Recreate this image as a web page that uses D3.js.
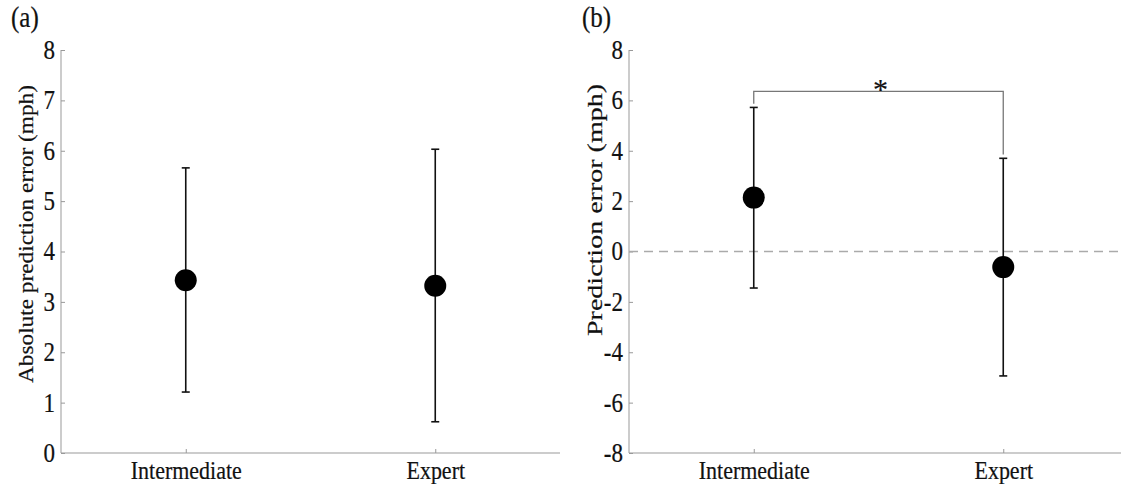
<!DOCTYPE html>
<html><head><meta charset="utf-8">
<script src="https://cdn.jsdelivr.net/npm/d3@7"></script>
<style>
body{margin:0;background:#fff;}
text{font-family:"Liberation Serif","Times New Roman",serif;fill:#111;stroke:#111;stroke-width:0.2px;}
</style></head>
<body><svg id="c" width="1121" height="491"></svg>
<script>
const categories = ["Intermediate", "Expert"];
// Panel (a): absolute prediction error
const absMean = [3.43, 3.32];
const absLow  = [1.21, 0.62];
const absHigh = [5.66, 6.03];
const absTicks = [0,1,2,3,4,5,6,7,8];
// Panel (b): prediction error
const errMean = [2.14, -0.62];
const errLow  = [-1.45, -4.94];
const errHigh = [5.72, 3.70];
const errTicks = [-8,-6,-4,-2,0,2,4,6,8];
const sigY = 6.36;

const svg = d3.select("#c");
const FS = 22;
const SY = 1.15; // vertical stretch of glyphs

function panel(opts){
  const g = svg.append("g");
  const x = d3.scaleLinear().domain([0.5, 2.5]).range([opts.x0, opts.x0 + 499]);
  const y = d3.scaleLinear().domain(opts.domain).range([453, 50]);
  // axes
  const yAx = d3.axisLeft(y).tickValues(opts.ticks).tickSize(-4).tickPadding(6).tickFormat(d => String(d));
  const ya = g.append("g").attr("transform", `translate(${opts.x0},0)`).call(yAx);
  ya.attr("font-family", null);
  ya.select(".domain").attr("stroke","#999").attr("d", `M0,${y(opts.domain[0])}V${y(opts.domain[1])}`);
  ya.selectAll(".tick line").attr("stroke","#999");
  ya.selectAll(".tick text").attr("font-size", 23).attr("fill","#111")
    .attr("font-family","Liberation Serif").attr("transform", `scale(1,${SY})`);
  const xAx = d3.axisBottom(x).tickValues([1,2]).tickSize(-4).tickPadding(7).tickFormat(d => categories[d-1]);
  const xa = g.append("g").attr("transform", `translate(0,453)`).call(xAx);
  xa.attr("font-family", null);
  xa.select(".domain").attr("stroke","#999").attr("d", `M${opts.x0},0H${opts.x0+499}`);
  xa.selectAll(".tick line").attr("stroke","#999");
  xa.selectAll(".tick text").attr("font-size", FS).attr("fill","#111")
    .attr("font-family","Liberation Serif").attr("transform", `scale(1,${SY})`);
  // y label
  g.append("text").attr("transform", `translate(${opts.lx},${opts.ly}) rotate(-90)`)
    .attr("text-anchor","middle").attr("dy","0.35em").attr("font-size", FS)
    .attr("textLength", opts.llen).attr("lengthAdjust","spacingAndGlyphs").text(opts.label);
  // panel tag
  g.append("text").attr("transform", `translate(${opts.tx},27) scale(1,${SY})`)
    .attr("font-size", 25).text(opts.tag);
  if (opts.zero) {
    g.append("line").attr("x1", opts.x0).attr("x2", opts.x0 + 499)
      .attr("y1", y(0)).attr("y2", y(0)).attr("stroke","#aaa").attr("stroke-width",1.3)
      .attr("stroke-dasharray","9,6");
  }
  if (opts.sig !== undefined) {
    const gap = 0.15;
    g.append("path").attr("fill","none").attr("stroke","#777").attr("stroke-width",1.3)
      .attr("d", `M${x(1)},${y(opts.high[0]+gap)}V${y(opts.sig)}H${x(2)}V${y(opts.high[1]+gap)}`);
    g.append("text").attr("x",(x(1)+x(2))/2 + 2).attr("y", y(opts.sig)+8).attr("text-anchor","middle")
      .attr("font-size", 30).text("*");
  }
  const idx = [0,1];
  g.selectAll(".eb").data(idx).join("line")
    .attr("x1", i => x(i+1)).attr("x2", i => x(i+1))
    .attr("y1", i => y(opts.low[i])).attr("y2", i => y(opts.high[i]))
    .attr("stroke","#111").attr("stroke-width",1.6);
  ["low","high"].forEach(k => {
    g.selectAll(".cap"+k).data(idx).join("line")
      .attr("x1", i => x(i+1)-4).attr("x2", i => x(i+1)+4)
      .attr("y1", i => y(opts[k][i])).attr("y2", i => y(opts[k][i]))
      .attr("stroke","#111").attr("stroke-width",1.6);
  });
  g.selectAll(".pt").data(idx).join("circle")
    .attr("cx", i => x(i+1)).attr("cy", i => y(opts.mean[i])).attr("r", 11).attr("fill","#000");
}

panel({x0:61, domain:[0,8], ticks:absTicks, mean:absMean, low:absLow, high:absHigh,
  label:"Absolute prediction error (mph)", lx:25, ly:234, llen:298, tag:"(a)", tx:11});
panel({x0:629, domain:[-8,8], ticks:errTicks, mean:errMean, low:errLow, high:errHigh,
  label:"Prediction error (mph)", lx:594, ly:210, llen:252, tag:"(b)", tx:582, zero:true, sig:sigY});
</script></body></html>
